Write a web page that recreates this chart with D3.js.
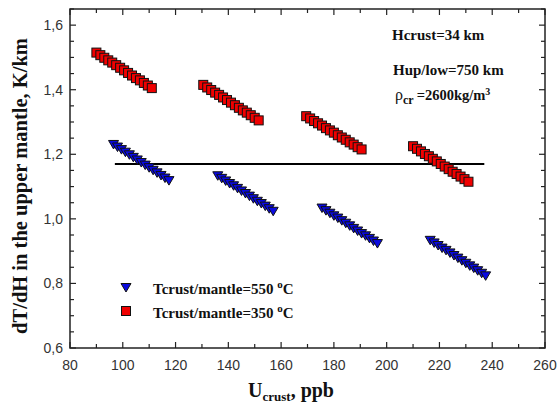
<!DOCTYPE html>
<html><head><meta charset="utf-8">
<script src="https://cdn.jsdelivr.net/npm/d3@7"></script>
<style>body{margin:0;background:#fff}svg{display:block}</style>
</head><body>
<svg id="c" width="560" height="412"></svg>
<script>
// ---- data ----
const xTicks = [80,100,120,140,160,180,200,220,240,260];
const yTicks = [0.6,0.8,1.0,1.2,1.4,1.6];

const red1X = [90,91.5,93,94.5,96,97.5,99,100.5,102,103.5,105,106.5,108,109.5,111];
const red1Y = [1.515,1.507,1.499,1.491,1.484,1.476,1.468,1.460,1.452,1.444,1.436,1.429,1.421,1.413,1.405];
const red2X = [130.5,132,133.5,135,136.5,138,139.5,141,142.5,144,145.5,147,148.5,150,151.5];
const red2Y = [1.415,1.407,1.399,1.391,1.384,1.376,1.368,1.360,1.352,1.344,1.336,1.329,1.321,1.313,1.305];
const red3X = [169.5,171,172.5,174,175.5,177,178.5,180,181.5,183,184.5,186,187.5,189,190.5];
const red3Y = [1.318,1.311,1.303,1.296,1.289,1.281,1.274,1.267,1.259,1.252,1.245,1.237,1.230,1.222,1.215];
const red4X = [210,211.5,213,214.5,216,217.5,219,220.5,222,223.5,225,226.5,228,229.5,231];
const red4Y = [1.225,1.217,1.209,1.201,1.194,1.186,1.178,1.170,1.162,1.154,1.146,1.139,1.131,1.123,1.115];

const blue1X = [96.5,98,99.5,101,102.5,104,105.5,107,108.5,110,111.5,113,114.5,116,117.5];
const blue1Y = [1.232,1.224,1.216,1.208,1.200,1.192,1.184,1.176,1.168,1.160,1.152,1.144,1.136,1.128,1.120];
const blue2X = [136,137.5,139,140.5,142,143.5,145,146.5,148,149.5,151,152.5,154,155.5,157];
const blue2Y = [1.135,1.127,1.119,1.111,1.104,1.096,1.088,1.080,1.072,1.064,1.056,1.049,1.041,1.033,1.025];
const blue3X = [175.5,177,178.5,180,181.5,183,184.5,186,187.5,189,190.5,192,193.5,195,196.5];
const blue3Y = [1.035,1.027,1.019,1.011,1.004,0.996,0.988,0.980,0.972,0.964,0.956,0.949,0.941,0.933,0.925];
const blue4X = [216.5,218,219.5,221,222.5,224,225.5,227,228.5,230,231.5,233,234.5,236,237.5];
const blue4Y = [0.935,0.927,0.919,0.911,0.904,0.896,0.888,0.880,0.872,0.864,0.856,0.849,0.841,0.833,0.825];

const refLineX = [97, 237];
const refLineY = [1.17, 1.17];

const legendLabels = ["Tcrust/mantle=550", "Tcrust/mantle=350"];

// ---- chart ----
const svg = d3.select("#c");
const L=70, R=545, T=9, B=348;
const x = d3.scaleLinear().domain([80,260]).range([L,R]);
const y = d3.scaleLinear().domain([0.6,1.65]).range([B,T]);
const axisColor="#222";

// ticks (inward on all four sides)
const xMinor = d3.range(80,261,10);
const yMinor = d3.range(0.6,1.651,0.05);
const g = svg.append("g").attr("stroke",axisColor).attr("stroke-width",1.2);
xMinor.forEach(v=>{
  const major = xTicks.includes(Math.round(v));
  const len = major?6:4;
  g.append("line").attr("x1",x(v)).attr("x2",x(v)).attr("y1",B).attr("y2",B-len);
  g.append("line").attr("x1",x(v)).attr("x2",x(v)).attr("y1",T).attr("y2",T+len);
});
yMinor.forEach(v=>{
  const major = yTicks.some(t=>Math.abs(t-v)<1e-6);
  const len = major?6:4;
  g.append("line").attr("y1",y(v)).attr("y2",y(v)).attr("x1",L).attr("x2",L+len);
  g.append("line").attr("y1",y(v)).attr("y2",y(v)).attr("x1",R).attr("x2",R-len);
});
svg.append("rect").attr("x",L).attr("y",T).attr("width",R-L).attr("height",B-T)
  .attr("fill","none").attr("stroke",axisColor).attr("stroke-width",1.5);

// tick labels
svg.append("g").selectAll("text").data(xTicks).join("text")
  .attr("x",d=>x(d)).attr("y",B+22).attr("text-anchor","middle")
  .attr("font-family","Liberation Sans, Arial, sans-serif").attr("font-size",14).attr("fill","#333")
  .text(d=>d);
svg.append("g").selectAll("text").data(yTicks).join("text")
  .attr("x",L-7).attr("y",d=>y(d)+5).attr("text-anchor","end")
  .attr("font-family","Liberation Sans, Arial, sans-serif").attr("font-size",14).attr("fill","#333")
  .text(d=>d.toFixed(1).replace(".",","));

// axis titles
const serif="Liberation Serif, Times New Roman, serif";
const xt = svg.append("text").attr("x",248).attr("y",397).attr("font-family",serif)
  .attr("font-weight","bold").attr("font-size",20).attr("fill","#111");
xt.append("tspan").text("U");
xt.append("tspan").attr("font-size",13).attr("dy",4).text("crust");
xt.append("tspan").attr("dy",-4).text(", ppb");
svg.append("text").attr("transform","translate(27,186) rotate(-90)")
  .attr("text-anchor","middle").attr("font-family",serif).attr("font-weight","bold")
  .attr("font-size",20.5).attr("fill","#111").text("dT/dH in the upper mantle, K/km");

// reference line
svg.append("line").attr("x1",x(refLineX[0])).attr("x2",x(refLineX[1]))
  .attr("y1",y(refLineY[0])).attr("y2",y(refLineY[1]))
  .attr("stroke","#000").attr("stroke-width",2);

// markers
const redFill="#f00000", blueFill="#0a0ae0";
function squares(xs,ys){
  svg.append("g").selectAll("rect").data(xs.map((v,i)=>[v,ys[i]])).join("rect")
    .attr("x",d=>x(d[0])-4.5).attr("y",d=>y(d[1])-4.5).attr("width",9).attr("height",9)
    .attr("fill",redFill).attr("stroke","#111").attr("stroke-width",1);
}
const triPath="M-5,-3.5L5,-3.5L0,5Z";
function tris(xs,ys){
  svg.append("g").selectAll("path").data(xs.map((v,i)=>[v,ys[i]])).join("path")
    .attr("d",triPath).attr("transform",d=>`translate(${x(d[0])},${y(d[1])})`)
    .attr("fill",blueFill).attr("stroke","#111").attr("stroke-width",1);
}
squares(red1X,red1Y); squares(red2X,red2Y); squares(red3X,red3Y); squares(red4X,red4Y);
tris(blue1X,blue1Y); tris(blue2X,blue2Y); tris(blue3X,blue3Y); tris(blue4X,blue4Y);

// legend
svg.append("path").attr("d",triPath).attr("transform","translate(126,287)")
  .attr("fill",blueFill).attr("stroke","#111");
svg.append("rect").attr("x",121.5).attr("y",306.5).attr("width",9).attr("height",9)
  .attr("fill",redFill).attr("stroke","#111");
legendLabels.forEach((lab,i)=>{
  const t = svg.append("text").attr("x",153).attr("y",294+i*24).attr("font-family",serif)
    .attr("font-weight","bold").attr("font-size",15).attr("fill","#111");
  t.append("tspan").text(lab+" ");
  t.append("tspan").attr("font-size",11).attr("dy",-6).text("o");
  t.append("tspan").attr("dy",6).text("C");
});

// annotations
const ann = svg.append("g").attr("font-family",serif).attr("font-weight","bold").attr("fill","#111");
ann.append("text").attr("x",392).attr("y",40).attr("font-size",15).text("Hcrust=34 km");
ann.append("text").attr("x",393).attr("y",75).attr("font-size",15).text("Hup/low=750 km");
const rho = ann.append("text").attr("x",395).attr("y",100).attr("font-size",13);
rho.append("tspan").attr("font-weight","normal").attr("font-size",16).text("ρ");
rho.append("tspan").attr("font-size",12).attr("dy",4).text("cr");
rho.append("tspan").attr("dy",-4).attr("dx",3).attr("font-size",14.5).text("=2600kg/m");
rho.append("tspan").attr("dy",-5).attr("font-size",10).text("3");
</script>
</body></html>
